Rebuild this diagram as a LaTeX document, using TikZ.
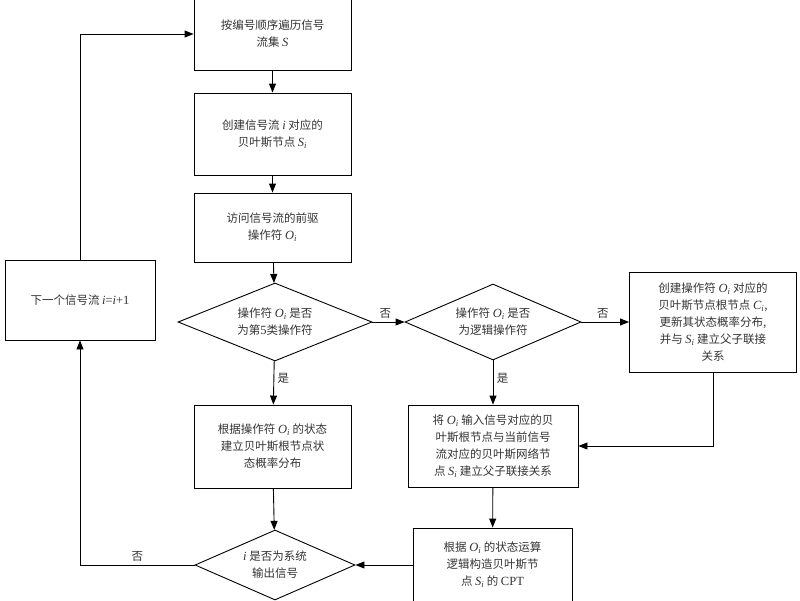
\documentclass[tikz,border=0pt]{standalone}
\usepackage{fontspec}
\setmainfont{Liberation Serif}
\newfontfamily\cjk{Noto Sans CJK SC}[Scale=0.92]
\newcommand{\It}[1]{{\rmfamily\itshape #1}}
\newcommand{\Sb}[2]{{\rmfamily\itshape #1}$_{\mathit{#2}}$}
\usetikzlibrary{shapes.geometric,arrows.meta}
\begin{document}
\begin{tikzpicture}[x=1pt,y=-1pt,
  every node/.style={font=\cjk\fontsize{12.5}{17}\selectfont, text=black!80},
  box/.style={draw, line width=0.9pt, align=center, inner sep=0pt},
  dia/.style={draw, diamond, line width=0.9pt, align=center, inner sep=0pt, aspect=2.4},
  arr/.style={line width=0.9pt, -{Triangle[length=9pt,width=7pt]}},
  lab/.style={font=\cjk\fontsize{12.5}{14}\selectfont}]
\useasboundingbox (0,0) rectangle (800,600);
\node[box, minimum width=157, minimum height=72] (b1) at (272.5,34) {按编号顺序遍历信号\\流集 \It{S}};
\node[box, minimum width=157, minimum height=82] (b2) at (272.5,134) {创建信号流 \It{i} 对应的\\贝叶斯节点 \Sb{S}{i}};
\node[box, minimum width=157, minimum height=69] (b3) at (272.5,227.5) {访问信号流的前驱\\操作符 \Sb{O}{i}};
\node[dia, minimum width=194, minimum height=78] (d1) at (275,322) {操作符 \Sb{O}{i} 是否\\为第{\rmfamily 5}类操作符};
\node[dia, minimum width=176, minimum height=76] (d2) at (493,322) {操作符 \Sb{O}{i} 是否\\为逻辑操作符};
\node[box, minimum width=167, minimum height=100] (br) at (713,322) {创建操作符 \Sb{O}{i} 对应的\\贝叶斯节点根节点 \Sb{C}{i},\\更新其状态概率分布,\\并与 \Sb{S}{i} 建立父子联接\\关系};
\node[box, minimum width=150, minimum height=80] (bl) at (80,300) {下一个信号流 \It{i}{\rmfamily=}\It{i}{\rmfamily+1}};
\node[box, minimum width=157, minimum height=83] (b4) at (272.5,446.5) {根据操作符 \Sb{O}{i} 的状态\\建立贝叶斯根节点状\\态概率分布};
\node[box, minimum width=170, minimum height=82] (b5) at (493,446) {将 \Sb{O}{i} 输入信号对应的贝\\叶斯根节点与当前信号\\流对应的贝叶斯网络节\\点 \Sb{S}{i} 建立父子联接关系};
\node[box, minimum width=159, minimum height=74] (b6) at (492.5,565) {根据 \Sb{O}{i} 的状态运算\\逻辑构造贝叶斯节\\点 \Sb{S}{i} 的 {\rmfamily CPT}};
\node[dia, minimum width=160, minimum height=70] (d3) at (275,565) {\It{i} 是否为系统\\输出信号};
\draw[arr] (b1) -- (b2);
\draw[arr] (b2) -- (b3);
\draw[arr] (b3) -- (d1);
\draw[arr] (d1) -- node[lab, above, pos=0.4] {否} (d2);
\draw[arr] (d2) -- node[lab, above, pos=0.45] {否} (br);
\draw[arr] (d1) -- node[lab, right, pos=0.4] {是} (b4);
\draw[arr] (d2) -- node[lab, right, pos=0.4] {是} (b5);
\draw[arr] (br.south) |- (b5.east);
\draw[arr] (b4) -- (d3);
\draw[arr] (b5) -- (b6);
\draw[arr] (b6) -- (d3);
\draw[arr] (d3.west) -| node[lab, above, pos=0.25] {否} (bl.south);
\draw[arr] (bl.north) |- (b1.west);
\end{tikzpicture}
\end{document}
